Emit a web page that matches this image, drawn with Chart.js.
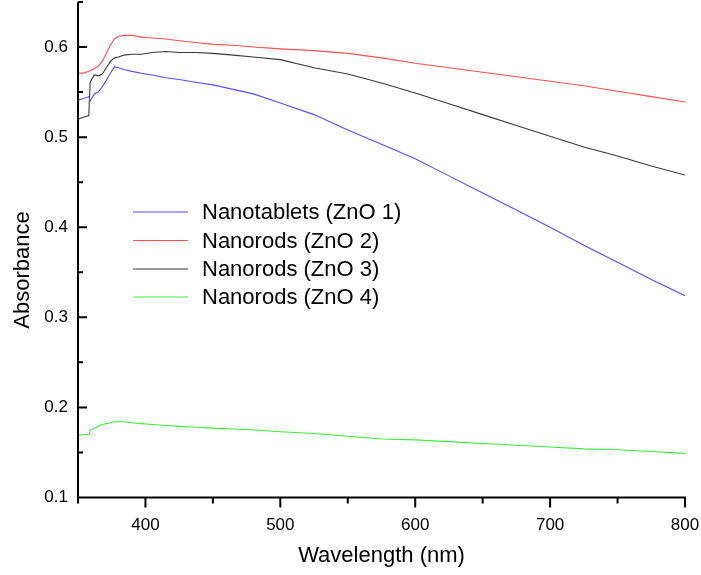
<!DOCTYPE html>
<html>
<head>
<meta charset="utf-8">
<script src="https://cdn.jsdelivr.net/npm/chart.js@4/dist/chart.umd.min.js"></script>
<style>
  html, body { margin: 0; padding: 0; background: #fff; }
  #chart { display: block; }
</style>
</head>
<body>
<canvas id="chart" width="701" height="575"></canvas>
<script>
// wavelength grid (nm) the readings were taken at
var wavelength = [350, 354, 358, 359, 362, 365, 368, 371, 374, 377, 380, 384, 390, 397, 405, 415, 425, 437, 450, 465, 480, 500, 525, 550, 575, 600, 625, 650, 675, 700, 725, 750, 775, 800];

// absorbance
var zno1 = [0.541, 0.543, 0.545, 0.540, 0.548, 0.550, 0.556, 0.563, 0.571, 0.578, 0.577, 0.575, 0.573, 0.571, 0.569, 0.566, 0.564, 0.561, 0.558, 0.553, 0.548, 0.538, 0.525, 0.508, 0.492, 0.476, 0.457, 0.438, 0.419, 0.400, 0.380, 0.361, 0.342, 0.324];
var zno2 = [0.571, 0.571, 0.573, 0.574, 0.576, 0.579, 0.584, 0.593, 0.602, 0.609, 0.612, 0.613, 0.613, 0.611, 0.610, 0.609, 0.607, 0.605, 0.603, 0.602, 0.600, 0.598, 0.596, 0.593, 0.588, 0.582, 0.577, 0.572, 0.567, 0.562, 0.557, 0.551, 0.545, 0.539];
var zno3 = [0.520, 0.522, 0.524, 0.561, 0.569, 0.568, 0.570, 0.577, 0.584, 0.588, 0.589, 0.591, 0.592, 0.592, 0.594, 0.595, 0.594, 0.594, 0.593, 0.591, 0.589, 0.586, 0.577, 0.570, 0.560, 0.549, 0.537, 0.525, 0.513, 0.501, 0.489, 0.479, 0.468, 0.458];
var zno4 = [0.169, 0.170, 0.170, 0.175, 0.177, 0.179, 0.181, 0.182, 0.183, 0.184, 0.184, 0.184, 0.183, 0.182, 0.181, 0.180, 0.179, 0.178, 0.177, 0.176, 0.175, 0.173, 0.171, 0.168, 0.165, 0.164, 0.162, 0.160, 0.158, 0.156, 0.154, 0.153, 0.151, 0.149];

var seriesNames = ['Nanotablets (ZnO 1)', 'Nanorods (ZnO 2)', 'Nanorods (ZnO 3)', 'Nanorods (ZnO 4)'];
var seriesColors = ['#5050ff', '#ff5050', '#3a3a3a', '#40ee40'];

var xTicks = [400, 500, 600, 700, 800];
var xMinorTicks = [350, 450, 550, 650, 750];
var yTicks = [0.1, 0.2, 0.3, 0.4, 0.5, 0.6];
var yMinorTicks = [0.15, 0.25, 0.35, 0.45, 0.55, 0.65];

var FONT = '"Liberation Sans", Arial, sans-serif';

function toPoints(values) {
    var pts = [];
    for (var i = 0; i < wavelength.length; i++) {
        pts.push({ x: wavelength[i], y: values[i] });
    }
    return pts;
}

var allSeries = [zno1, zno2, zno3, zno4];
var datasets = [];
for (var i = 0; i < allSeries.length; i++) {
    datasets.push({
        label: seriesNames[i],
        data: toPoints(allSeries[i]),
        borderColor: seriesColors[i],
        borderWidth: 1.1,
        pointRadius: 0,
        tension: 0,
        fill: false
    });
}

// axes, ticks, axis titles and legend drawn like the original plot
var framePlugin = {
    id: 'frame',
    afterDraw: function (chart) {
        var ctx = chart.ctx;
        var xs = chart.scales.x;
        var ys = chart.scales.y;
        var area = chart.chartArea;
        ctx.save();
        ctx.strokeStyle = '#000';
        ctx.lineWidth = 2;
        ctx.beginPath();
        ctx.moveTo(area.left, area.top);
        ctx.lineTo(area.left, area.bottom + 1);
        ctx.moveTo(area.left - 1, area.bottom);
        ctx.lineTo(area.right + 1, area.bottom);
        // y ticks point inward
        yTicks.forEach(function (v) {
            var y = ys.getPixelForValue(v);
            ctx.moveTo(area.left, y);
            ctx.lineTo(area.left + 9, y);
        });
        yMinorTicks.forEach(function (v) {
            var y = ys.getPixelForValue(v);
            ctx.moveTo(area.left, y);
            ctx.lineTo(area.left + 5, y);
        });
        // x ticks point outward
        xTicks.forEach(function (v) {
            var x = xs.getPixelForValue(v);
            ctx.moveTo(x, area.bottom);
            ctx.lineTo(x, area.bottom + 10);
        });
        xMinorTicks.forEach(function (v) {
            var x = xs.getPixelForValue(v);
            ctx.moveTo(x, area.bottom);
            ctx.lineTo(x, area.bottom + 6);
        });
        ctx.stroke();

        // axis titles
        ctx.fillStyle = '#000';
        ctx.font = '22px ' + FONT;
        ctx.textAlign = 'center';
        ctx.textBaseline = 'middle';
        ctx.fillText('Wavelength (nm)', (area.left + area.right) / 2, 556);
        ctx.translate(23, 270);
        ctx.rotate(-Math.PI / 2);
        ctx.fillText('Absorbance', 0, 0);
        ctx.restore();

        // legend inside the plot
        ctx.save();
        ctx.font = '22px ' + FONT;
        ctx.textAlign = 'left';
        ctx.textBaseline = 'middle';
        var rowY = [212, 240.5, 269, 297];
        chart.data.datasets.forEach(function (ds, i) {
            ctx.strokeStyle = ds.borderColor;
            ctx.lineWidth = 1.2;
            ctx.beginPath();
            ctx.moveTo(133, rowY[i]);
            ctx.lineTo(188, rowY[i]);
            ctx.stroke();
            ctx.fillStyle = '#000';
            ctx.fillText(ds.label, 202, rowY[i] + 1);
        });
        ctx.restore();
    }
};

var ctx = document.getElementById('chart');
var absChart = new Chart(ctx, {
    type: 'line',
    data: { datasets: datasets },
    options: {
        responsive: false,
        animation: false,
        layout: { padding: { top: 2, right: 16, left: 0, bottom: 0 } },
        plugins: {
            legend: { display: false },
            tooltip: { enabled: false }
        },
        scales: {
            x: {
                type: 'linear',
                min: 350,
                max: 800,
                grid: { display: false, drawTicks: false },
                border: { display: false },
                ticks: {
                    padding: 18,
                    color: '#000',
                    font: { family: FONT, size: 17 }
                },
                afterBuildTicks: function (scale) {
                    scale.ticks = xTicks.map(function (v) { return { value: v }; });
                },
                afterFit: function (scale) {
                    scale.height = 77.5;
                    scale.paddingLeft = 0;
                    scale.paddingRight = 0;
                }
            },
            y: {
                type: 'linear',
                min: 0.1,
                max: 0.65,
                grid: { display: false, drawTicks: false },
                border: { display: false },
                ticks: {
                    padding: 10,
                    color: '#000',
                    font: { family: FONT, size: 17 },
                    callback: function (v) { return v.toFixed(1); }
                },
                afterBuildTicks: function (scale) {
                    scale.ticks = yTicks.map(function (v) { return { value: v }; });
                },
                afterFit: function (scale) {
                    scale.width = 78;
                    scale.paddingTop = 0;
                    scale.paddingBottom = 0;
                }
            }
        }
    },
    plugins: [framePlugin]
});
</script>
</body>
</html>
